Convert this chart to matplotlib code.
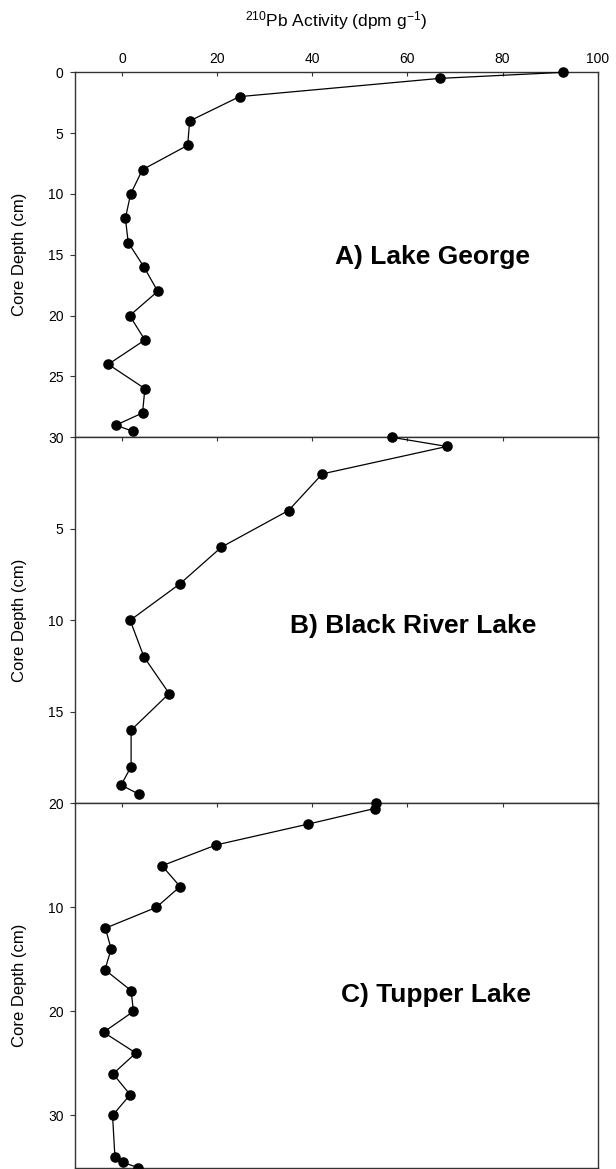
import matplotlib
matplotlib.use("Agg")
import matplotlib.pyplot as plt

plt.rcParams['font.family'] = ['Liberation Sans', 'DejaVu Sans']
plt.rcParams['mathtext.fontset'] = 'custom'
plt.rcParams['mathtext.rm'] = 'Liberation Sans'
plt.rcParams['mathtext.it'] = 'Liberation Sans:italic'
plt.rcParams['mathtext.bf'] = 'Liberation Sans:bold'

# ---- data ----
a_depth = [0, 0.5, 2, 4, 6, 8, 10, 12, 14, 16, 18, 20, 22, 24, 26, 28, 29, 29.5]
a_act = [92.8, 66.8, 24.7, 14.2, 13.8, 4.3, 1.8, 0.7, 1.3, 4.6, 7.5, 1.6, 4.8, -2.9, 4.8, 4.3, -1.3, 2.2]

b_depth = [0, 0.5, 2, 4, 6, 8, 10, 12, 14, 16, 18, 19, 19.5]
b_act = [56.7, 68.3, 42.1, 35.0, 20.9, 12.2, 1.7, 4.6, 9.9, 1.9, 1.9, -0.2, 3.5]

c_depth = [0, 0.5, 2, 4, 6, 8, 10, 12, 14, 16, 18, 20, 22, 24, 26, 28, 30, 34, 34.5, 35]
c_act = [53.4, 53.1, 39.1, 19.8, 8.4, 12.2, 7.2, -3.5, -2.3, -3.6, 1.9, 2.4, -3.9, 2.9, -1.9, 1.7, -2.0, -1.5, 0.1, 3.3]

x_ticks = [0, 20, 40, 60, 80, 100]
a_yticks = [0, 5, 10, 15, 20, 25, 30]
b_yticks = [5, 10, 15, 20]
c_yticks = [10, 20, 30]
labels = ["A) Lake George", "B) Black River Lake", "C) Tupper Lake"]
label_pos = [(65.2, 15.2), (61.2, 10.3), (65.9, 18.4)]

W, H = 616, 1169
fig = plt.figure(figsize=(W / 100, H / 100), dpi=100)

left = 74.5 / W
width = (597.7 - 74.5) / W
panels = [
    (72.3, 437.3, (30, 0), a_yticks, a_depth, a_act),
    (437.3, 803.3, (20, 0), b_yticks, b_depth, b_act),
    (803.3, 1167.5, (35, 0), c_yticks, c_depth, c_act),
]

spine_col = '#333333'
for i, (top, bot, ylim, yt, dep, act) in enumerate(panels):
    ax = fig.add_axes([left, 1 - bot / H, width, (bot - top) / H])
    ax.plot(act, dep, color='black', lw=0.9, marker='o', markersize=6.6,
            markerfacecolor='black', markeredgecolor='black', clip_on=False, zorder=5)
    ax.set_xlim(-10, 100)
    ax.set_ylim(*ylim)
    ax.set_yticks(yt)
    ax.set_xticks(x_ticks)
    ax.xaxis.set_ticks_position('top')
    ax.tick_params(axis='x', direction='in', length=3.2, width=0.8, colors=spine_col,
                   labelcolor='black', labelsize=10, pad=4.5,
                   labeltop=(i == 0), labelbottom=False, top=True, bottom=False)
    ax.tick_params(axis='y', direction='out', length=3.8, width=0.8, colors=spine_col,
                   labelcolor='black', labelsize=10, pad=4.0, right=False)
    for s in ax.spines.values():
        s.set_color(spine_col)
        s.set_linewidth(1.0)
    ax.set_ylabel("Core Depth (cm)", fontsize=12)
    ax.yaxis.set_label_coords(-0.091, 0.5)
    ax.text(label_pos[i][0], label_pos[i][1], labels[i], fontsize=19, fontweight='bold',
            ha='center', va='center')

fig.text((74.5 + 597.7) / 2 / W, 1 - 21 / H, r"$^{210}$Pb Activity (dpm g$^{-1}$)",
         ha='center', va='center', fontsize=12.5)

fig.savefig("out.png", dpi=100)
